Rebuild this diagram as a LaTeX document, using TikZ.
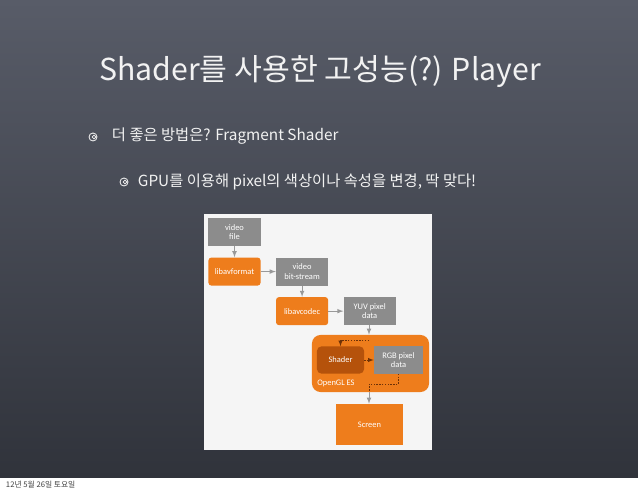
\documentclass[tikz,border=0pt]{standalone}
\usepackage{fontspec}
\setmainfont{Noto Sans CJK KR}
\newfontfamily\boxfont{Carlito}
\usetikzlibrary{positioning}
\definecolor{slatetop}{HTML}{585C68}
\definecolor{slatebot}{HTML}{30333B}
\definecolor{kporange}{HTML}{EE7D1C}
\definecolor{kpdark}{HTML}{B5520B}
\definecolor{kpgray}{HTML}{8C8C8C}
\definecolor{chalk}{HTML}{F2F2F2}
\tikzset{gray box/.style={fill=kpgray,text=white,minimum width=1.3cm,minimum height=0.7cm,inner sep=0pt,align=center,font=\boxfont\fontsize{6}{6.9}\selectfont},}
\tikzset{orange box/.style={gray box,fill=kporange,rounded corners=2pt},}
\tikzset{flow/.style={->,>=latex,draw=gray!80,line width=0.5pt},}
\tikzset{dash flow/.style={->,>=latex,draw=kpdark!60!black,dashed,dash pattern=on 1pt off 1pt,line width=0.4pt},}

\begin{document}
\begin{tikzpicture}[x=0.025cm,y=-0.025cm]
     \useasboundingbox (0,0) rectangle (638,491);
     \shade[top color=slatetop,bottom color=slatebot] (0,0) rectangle (638,478);
     \fill[white] (0,478) rectangle (638,491);

     % slide text
     \node[text=chalk,font=\fontsize{21.5}{24}\selectfont] (title) at (320,72) {Shader를 사용한 고성능(?) Player};
     \node[text=chalk,font=\fontsize{10.9}{12}\selectfont,anchor=west] (item1) at (107,136) {더 좋은 방법은? Fragment Shader};
     \node[text=chalk,font=\fontsize{10.9}{12}\selectfont,anchor=west] (item2) at (133,182) {GPU를 이용해 pixel의 색상이나 속성을 변경, 딱 맞다!};
     \foreach \bx/\by in {93/137,124/182} {
       \draw[chalk,line width=0.6pt] (\bx,\by) circle (4);
       \draw[chalk,line width=0.5pt] (\bx+1,\by) circle (1.8);
     }
     \node[text=black!75,font=\fontsize{5.5}{6}\selectfont,anchor=west] (date) at (1,484.5) {12년 5월 26일 토요일};

     % diagram
     \fill[white!96!black] (204,214) rectangle (432,450);
     \node[gray box] (vfile) at (234.5,232) {video\\file};
     \node[orange box, below=0.275cm of vfile] (format) {libavformat};
     \node[gray box, right=0.375cm of format] (stream) {video\\bit-stream};
     \node[orange box, below=0.275cm of stream] (codec) {libavcodec};
     \node[gray box, right=0.375cm of codec] (yuv) {YUV pixel\\data};
     \node[orange box, minimum width=2.925cm, minimum height=1.425cm, rounded corners=6pt] (gl) at (370.5,363.5) {};
     \node[orange box, fill=kpdark, minimum width=1.175cm, minimum height=0.675cm, rounded corners=3pt] (shader) at (340.5,360) {Shader};
     \node[gray box, minimum width=1.225cm, minimum height=0.675cm] (rgb) at (398.5,360) {RGB pixel\\data};
     \node[font=\boxfont\fontsize{6}{6.9}\selectfont, text=white, anchor=west, inner sep=0pt] (gllabel) at (317,383) {OpenGL ES};
     \node[orange box, minimum width=1.675cm, minimum height=1.025cm, rounded corners=0pt] (screen) at (369.5,424.5) {Screen};

     \coordinate (split) at (369,340);
     \coordinate (join) at (369,384);

     \draw[flow] (vfile) -- (format);
     \draw[flow] (format) -- (stream);
     \draw[flow] (stream) -- (codec);
     \draw[flow] (codec) -- (yuv);
     \draw[flow] (yuv.south -| split) -- (split |- gl.north);
     \draw[dash flow] (split) -| (shader.north);
     \draw[dash flow] (shader) -- (rgb);
     \draw[dash flow,-] (rgb.south) |- (join) -- (join |- gl.south);
     \draw[flow] (join |- gl.south) -- (join |- screen.north);
  \end{tikzpicture}
\end{document}
